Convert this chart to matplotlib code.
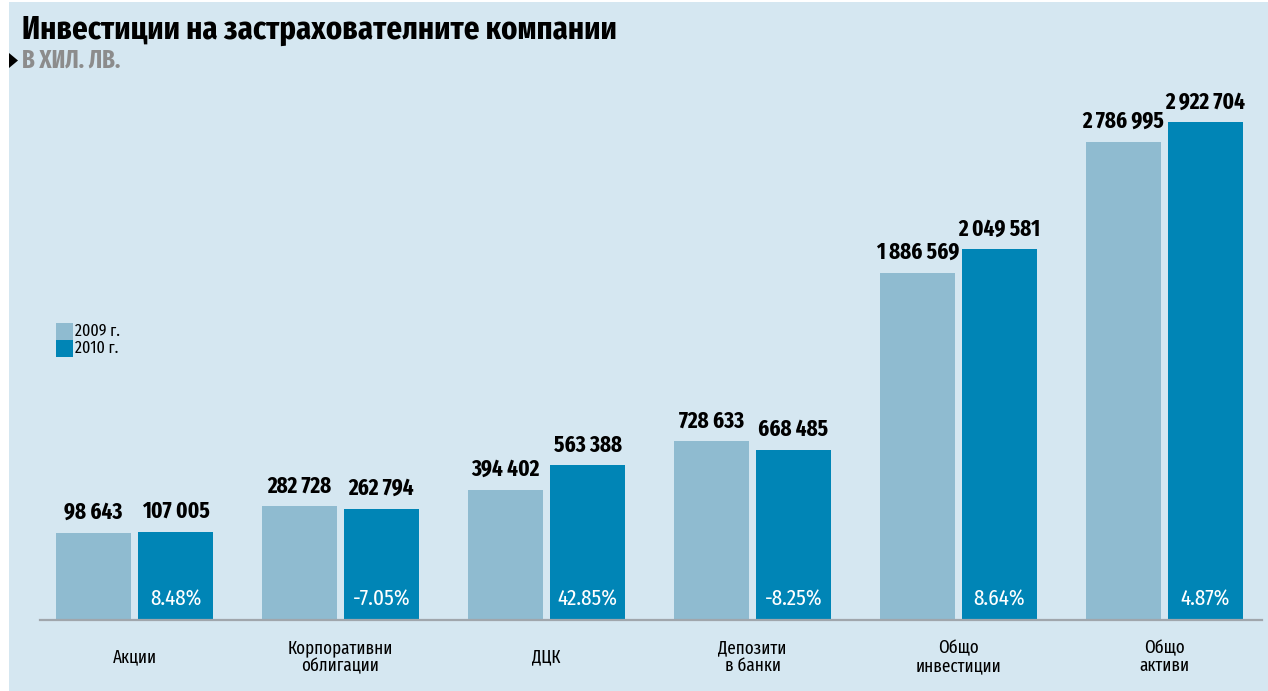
import matplotlib
matplotlib.use("Agg")
import matplotlib.pyplot as plt
import numpy as np
from matplotlib import font_manager
from matplotlib.patches import Rectangle, Polygon
from matplotlib.transforms import blended_transform_factory

# ---- data ----
categories = ["Акции", "Корпоративни\nоблигации", "ДЦК", "Депозити\nв банки",
              "Общо\nинвестиции", "Общо\nактиви"]
values_2009 = [98643, 282728, 394402, 728633, 1886569, 2786995]
values_2010 = [107005, 262794, 563388, 668485, 2049581, 2922704]
series_labels = ["2009 г.", "2010 г."]
title = "Инвестиции на застрахователните компании"
subtitle = "В ХИЛ. ЛВ."

# ---- fonts ----
installed = {f.name for f in font_manager.fontManager.ttflist}
font = "DejaVu Sans"
for cand in ["Fira Sans Extra Condensed", "PT Sans Narrow", "Roboto Condensed",
             "Fira Sans Condensed", "Open Sans Condensed"]:
    if cand in installed:
        font = cand
        break
plt.rcParams["font.family"] = [font, "DejaVu Sans"]

W, H = 1268, 691
C09 = "#8fbbd0"
C10 = "#0085b6"
BG = "#d5e7f1"

fig = plt.figure(figsize=(W / 100, H / 100), dpi=100)
fig.patch.set_facecolor("white")
fig.patches.append(Rectangle((9 / W, 0), 1 - 9 / W, 1 - 2 / H, transform=fig.transFigure,
                             facecolor=BG, edgecolor="none", zorder=-10))

def fx(px):
    return px / W

def fy(py):
    return 1 - py / H

ax = fig.add_axes([fx(40), fy(620), fx(1262) - fx(40), fy(100) - fy(620)])
ax.set_facecolor("none")
ax.set_zorder(1)

BASE = -500000
x = np.arange(len(categories))
bw = 0.364
off = 0.199
v09 = np.array(values_2009)
v10 = np.array(values_2010)
ax.bar(x - off, v09 - BASE, bottom=BASE, width=bw, color=C09, zorder=2)
ax.bar(x + off, v10 - BASE, bottom=BASE, width=bw, color=C10, zorder=2)

ax.set_xlim(-0.4587, 5.473)
ax.set_ylim(BASE, 3.076e6)

for s in ["top", "right", "left"]:
    ax.spines[s].set_visible(False)
ax.spines["bottom"].set_color("#a0a6ac")
ax.spines["bottom"].set_linewidth(1.6)
ax.spines["bottom"].set_position(("data", BASE))
ax.spines["bottom"].set_zorder(3)
ax.set_xticks([])
ax.set_yticks([])

fmt = lambda v: f"{v:,}".replace(",", " ")
for xi, a, b in zip(x, v09, v10):
    ax.annotate(fmt(int(a)), (xi - off, a), xytext=(0, 6.5), textcoords="offset points",
                ha="center", va="bottom", fontsize=16.5, fontweight="bold", color="black")
    ax.annotate(fmt(int(b)), (xi + off, b), xytext=(0, 6.5), textcoords="offset points",
                ha="center", va="bottom", fontsize=16.5, fontweight="bold", color="black")
    pct = (b / a - 1) * 100
    ax.annotate(f"{pct:.2f}%", (xi + off, BASE), xytext=(0, 15), textcoords="offset points",
                ha="center", va="center", fontsize=16.5, color="white", zorder=4)

tr = blended_transform_factory(ax.transData, ax.transAxes)
for xi, c in zip(x, categories):
    ax.text(xi, (620 - 657) / 520, c, transform=tr, ha="center", va="center",
            fontsize=13.3, linespacing=1.0, color="black", clip_on=False)

# title & subtitle
fig.text(fx(22), fy(30), title, ha="left", va="center", fontsize=24, fontweight="bold",
         color="black")
fig.text(fx(22), fy(60), subtitle, ha="left", va="center", fontsize=18, fontweight="bold",
         color="#8c8c8c")
fig.patches.append(Polygon([(fx(9), fy(53)), (fx(9), fy(68)), (fx(18), fy(60.5))],
                           closed=True, transform=fig.transFigure, facecolor="black",
                           edgecolor="none"))

# legend
for i, (lab, col) in enumerate(zip(series_labels, [C09, C10])):
    top = 323 + 17 * i
    fig.patches.append(Rectangle((fx(56), fy(top + 17)), fx(17), 17 / H,
                                 transform=fig.transFigure, facecolor=col, edgecolor="none"))
    fig.text(fx(75), fy(top + 8.5), lab, ha="left", va="center", fontsize=12.5, color="black")

fig.savefig("out.png", dpi=100, facecolor=fig.get_facecolor())
